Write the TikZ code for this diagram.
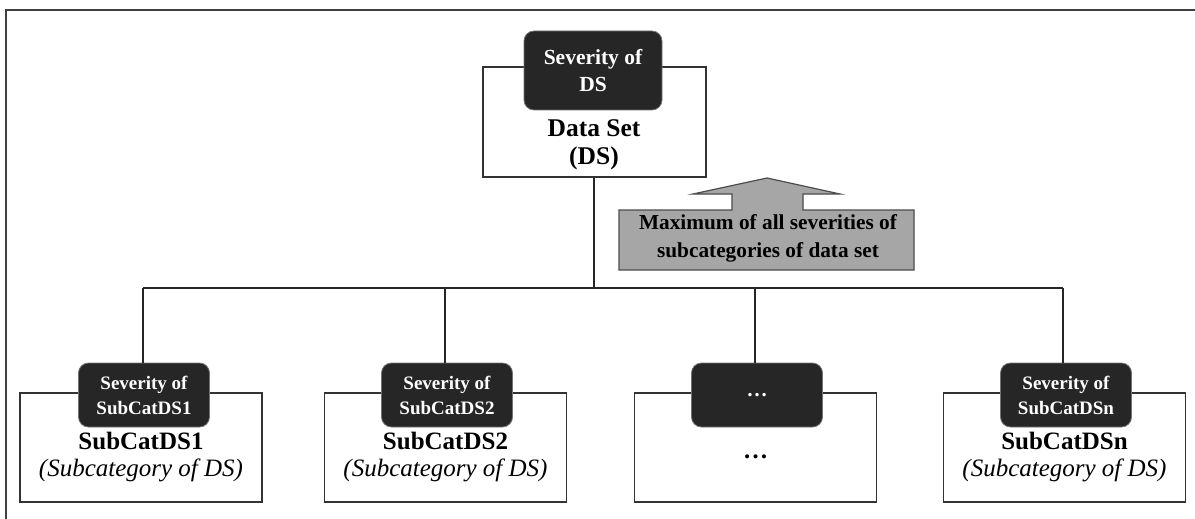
\documentclass[tikz,border=0pt]{standalone}
\usepackage{fontspec}
\setmainfont{Liberation Serif}
\begin{document}
\begin{tikzpicture}[x=1pt,y=-1pt,
  wbox/.style={draw=black!80, line width=1.2pt, fill=white, inner sep=0pt},
  dbox/.style={draw=black!55, line width=0.8pt, fill=black!85, rounded corners=10pt,
    text=white, align=center, inner sep=0pt, minimum width=131pt, minimum height=64pt,
    font=\fontsize{19}{25}\selectfont\bfseries},
  wlabel/.style={align=center, inner sep=0pt, font=\fontsize{25}{27}\selectfont},
  conn/.style={draw=black!85, line width=1.2pt},
  greyarrow/.style={draw=black!70, line width=1.2pt, fill=black!35}
]
\useasboundingbox (0,0) rectangle (1195,519);
% outer frame (cropped on right and bottom)
\draw[line width=1.6pt, black!75] (6,540) -- (6,10) -- (1220,10);

% bus
\coordinate (busL) at (143,288);
\coordinate (busR) at (1063,288);
\coordinate (busC) at (594,288);

% top box
\node[wbox, minimum width=223pt, minimum height=110pt] (ds) at (594.5,122) {};
\draw[conn] (ds.south -| busC) -- (busC);
\draw[conn] (busL) -- (busR);

\node[dbox, minimum width=138pt, minimum height=79pt, font=\fontsize{21.5}{27}\selectfont\bfseries] (sevds) at (593,70.5) {Severity of\\DS};
\node[wlabel, font=\fontsize{25.5}{28}\selectfont\bfseries] (dslabel) at (594,145) {Data Set\\(DS)};

% grey arrow
\draw[greyarrow] (767,178) -- (840,194) -- (803,194) -- (803,210) -- (914,210) -- (914,270)
  -- (619,270) -- (619,210) -- (732,210) -- (732,194) -- (693,194) -- cycle;
\node[align=center, inner sep=0pt, font=\fontsize{21.3}{28}\selectfont\bfseries] (maxtxt) at (768,238)
  {Maximum of all severities of\\subcategories of data set};

% bottom boxes
\foreach \n/\wx/\dx/\dy/\st/\sub in {1/141/144/143/{Severity of\\SubCatDS1}/{\bfseries SubCatDS1\\\normalfont\itshape(Subcategory of DS)},
                                  2/445.5/447/445/{Severity of\\SubCatDS2}/{\bfseries SubCatDS2\\\normalfont\itshape(Subcategory of DS)},
                                  3/755.5/757/755/{\fontsize{21}{25}\selectfont\ldots}/{\bfseries\ldots},
                                  4/1064.5/1066/1063/{Severity of\\SubCatDSn}/{\bfseries SubCatDSn\\\normalfont\itshape(Subcategory of DS)}}{
  \coordinate (drop\n) at (\dy,288);
  \node[wbox, minimum width=242pt, minimum height=109pt] (sub\n) at (\wx,447.5) {};
  \node[dbox] (sev\n) at (\dx,395) {\st};
  \draw[conn] (drop\n) -- (sev\n.north -| drop\n);
  \node[wlabel] (lab\n) at (\wx,457) {\sub};
}
\end{tikzpicture}
\end{document}
